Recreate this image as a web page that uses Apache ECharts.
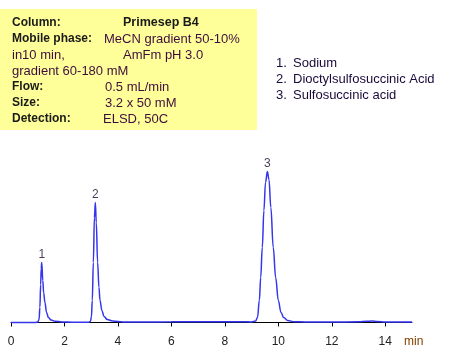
<!DOCTYPE html>
<html>
<head>
<meta charset="utf-8">
<script src="https://cdn.jsdelivr.net/npm/echarts@6/dist/echarts.min.js"></script>
<style>
  html, body { margin: 0; padding: 0; background: #fff; }
  #main { width: 453px; height: 354px; }
</style>
</head>
<body>
<div id="main"></div>
<script>
// chromatogram trace (time in min, signal in arbitrary units)
var times = [0, 0.5, 0.9, 1.0, 1.05, 1.08, 1.11, 1.13, 1.15, 1.19, 1.22, 1.27, 1.33, 1.4, 1.5, 1.65, 1.9, 2.3, 2.7,
  2.9, 2.97, 3.01, 3.04, 3.08, 3.12, 3.155, 3.19, 3.24, 3.29, 3.33, 3.4, 3.48, 3.6, 3.8, 4.2, 5, 6, 7, 8, 8.6,
  9.0, 9.15, 9.22, 9.29, 9.34, 9.40, 9.46, 9.52, 9.59, 9.65, 9.72, 9.81, 9.90, 10.0, 10.1, 10.2, 10.35, 10.6,
  11, 12, 13, 13.3, 13.5, 13.7, 14, 14.5, 15];
var signal = [0, 0, 0.1, 0.5, 3, 15, 38, 54, 60, 42, 30, 20, 10, 5, 2.5, 1.2, 0.6, 0.3, 0.2,
  0.3, 1, 6, 22, 60, 105, 120, 100, 60, 35, 22, 12, 6, 3, 1.5, 0.6, 0.4, 0.7, 0.8, 0.8, 0.7,
  0.6, 1.5, 5, 22, 45, 75, 112, 140, 151, 143, 115, 75, 45, 22, 10, 5, 2, 0.8,
  0.6, 0.5, 0.7, 1.2, 1.4, 1, 0.6, 0.5, 0.5];

// peak apexes with their numbers
var peakNames = ['1', '2', '3'];
var peakTimes = [1.15, 3.155, 9.59];
var peakHeights = [60, 120, 151];

var xTicks = [0, 2, 4, 6, 8, 10, 12, 14];

var compounds = ['Sodium', 'Dioctylsulfosuccinic Acid', 'Sulfosuccinic acid'];

// conditions box: [label, value, value x]
var conditions = [
  ['Column:', '', 0],
  ['Mobile phase:', 'MeCN gradient 50-10%', 104],
  ['in10 min,', 'AmFm pH 3.0', 123],
  ['gradient 60-180 mM', '', 0],
  ['Flow:', '0.5 mL/min', 105],
  ['Size:', '3.2 x 50 mM', 105],
  ['Detection:', 'ELSD, 50C', 103]
];

var FONT = '"Liberation Sans", Arial, sans-serif';
var chart = echarts.init(document.getElementById('main'), null, { renderer: 'canvas' });

var graphics = [{
  type: 'rect', shape: { x: 0, y: 9, width: 257, height: 121 },
  style: { fill: '#ffff99' }, silent: true
}];
conditions.forEach(function (row, i) {
  var y = 23 + i * 16;
  var plain = (i === 2 || i === 3);
  graphics.push({
    type: 'text', x: 12, y: y,
    style: { text: row[0], font: plain ? '13px ' + FONT : 'bold 12px ' + FONT, fill: plain ? '#3d0d3d' : '#1a1a1a', textVerticalAlign: 'middle' }
  });
  if (row[1]) {
    graphics.push({
      type: 'text', x: row[2], y: y,
      style: { text: row[1], font: '13px ' + FONT, fill: '#3d0d3d', textVerticalAlign: 'middle' }
    });
  }
});
graphics.push({
  type: 'text', x: 123, y: 23,
  style: { text: 'Primesep B4', font: 'bold 12.5px ' + FONT, fill: '#1a1a1a', textVerticalAlign: 'middle' }
});
compounds.forEach(function (c, i) {
  var y = 63 + i * 16;
  graphics.push({
    type: 'text', x: 276, y: y,
    style: { text: (i + 1) + '.', font: '13px ' + FONT, fill: '#1a0a3a', textVerticalAlign: 'middle' }
  });
  graphics.push({
    type: 'text', x: 293, y: y,
    style: { text: c, font: '13px ' + FONT, fill: '#1a0a3a', textVerticalAlign: 'middle' }
  });
});
graphics.push({
  type: 'text', x: 404, y: 342,
  style: { text: 'min', font: '12px ' + FONT, fill: '#804000', textVerticalAlign: 'middle' }
});

var option = {
  animation: false,
  backgroundColor: '#fff',
  grid: { left: 11, right: 41, top: 150, bottom: 23, containLabel: false },
  xAxis: {
    type: 'value', min: 0, max: 15,
    axisLine: { show: true, lineStyle: { color: '#000', width: 1 } },
    axisTick: { show: true, length: 4, lineStyle: { color: '#000' }, customValues: xTicks },
    axisLabel: { color: '#222', fontFamily: FONT, fontSize: 12, margin: 5, customValues: xTicks },
    splitLine: { show: false }
  },
  yAxis: {
    type: 'value', min: -8.5, max: 172.5, show: false,
    splitLine: { show: false }
  },
  graphic: graphics,
  series: [{
    type: 'line',
    data: times.map(function (t, i) { return [t, signal[i]]; }),
    showSymbol: false,
    smooth: 0.4,
    smoothMonotone: 'x',
    lineStyle: { color: '#3535ee', width: 1.5 },
    z: 2
  }, {
    type: 'scatter',
    data: peakTimes.map(function (t, i) { return { value: [t, peakHeights[i]], name: peakNames[i] }; }),
    symbolSize: 0,
    label: {
      show: true, position: 'top', distance: 2,
      formatter: '{b}', color: '#1a0a30', fontFamily: FONT, fontSize: 12
    },
    z: 3
  }]
};

chart.setOption(option);
</script>
</body>
</html>
